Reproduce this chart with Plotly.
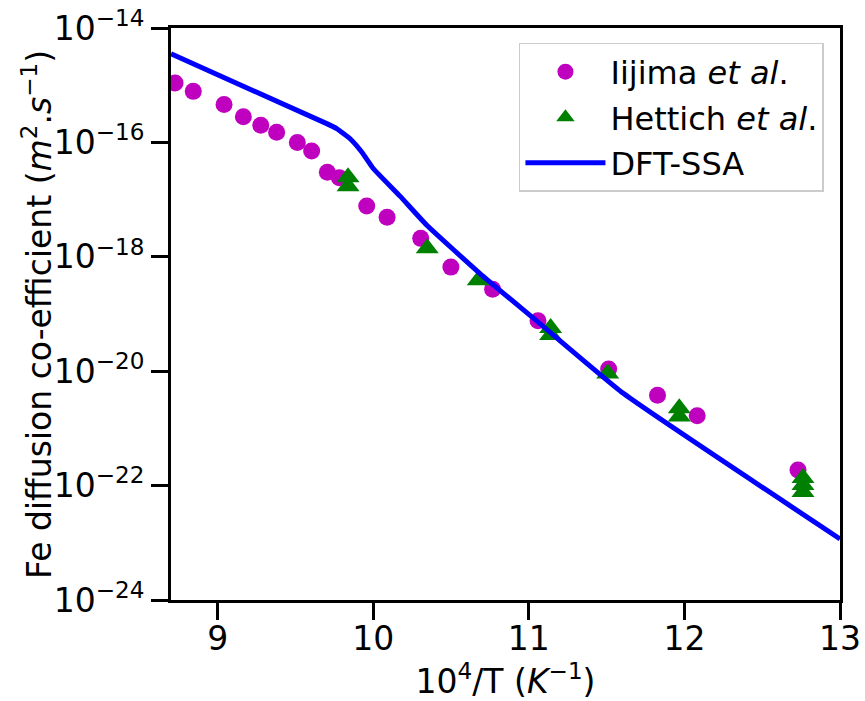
import plotly.graph_objects as go

# Iijima et al. measurements: inverse temperature (10^4/T, K^-1) and Fe diffusion coefficient (m^2/s)
iijima_x = [8.726, 8.843, 9.041, 9.165, 9.277, 9.379, 9.512, 9.604, 9.705, 9.782,
            9.958, 10.089, 10.305, 10.499, 10.767, 11.059, 11.513, 11.827, 12.082, 12.730]
iijima_d = [1.09e-15, 7.8e-16, 4.6e-16, 2.8e-16, 2.0e-16, 1.5e-16, 1.0e-16, 7.1e-17, 3.0e-17, 2.4e-17,
            7.7e-18, 4.9e-18, 2.1e-18, 6.6e-19, 2.7e-19, 7.6e-20, 1.09e-20, 3.8e-21, 1.66e-21, 1.87e-22]

# Hettich et al. measurements
hettich_x = [9.838, 9.838, 10.347, 10.675, 11.140, 11.140, 11.507, 11.967, 11.967, 12.762, 12.762, 12.762]
hettich_d = [2.45e-17, 1.71e-17, 1.41e-18, 3.9e-19, 5.7e-20, 4.3e-20, 9.1e-21, 2.26e-21, 1.61e-21,
             1.36e-22, 1.02e-22, 7.7e-23]

# DFT-SSA prediction
dft_x = [8.700, 9.701, 9.765, 9.851, 9.926, 10.000, 10.172, 10.343, 10.686, 11.052, 11.607, 13.000]
dft_d = [3.53e-15, 2.13e-16, 1.74e-16, 1.16e-16, 6.8e-17, 3.5e-17, 1.15e-17, 3.6e-18, 5.1e-19,
         7.5e-20, 4.1e-21, 1.17e-23]

# Axis ticks
x_ticks = [9, 10, 11, 12, 13]
y_tick_vals = [1e-24, 1e-22, 1e-20, 1e-18, 1e-16, 1e-14]
y_tick_text = ["10<sup>\u221224</sup>", "10<sup>\u221222</sup>", "10<sup>\u221220</sup>",
               "10<sup>\u221218</sup>", "10<sup>\u221216</sup>", "10<sup>\u221214</sup>"]

x_title = "10<sup>4</sup>/T (<i>K</i><sup>\u22121</sup>)"
y_title = "Fe diffusion co-efficient (<i>m</i><sup>2</sup>.<i>s</i><sup>\u22121</sup>)"

FONT = "DejaVu Sans"
FS = 33

fig = go.Figure()
fig.add_trace(go.Scatter(
    x=iijima_x, y=iijima_d, mode="markers", name="Iijima <i>et al</i>.",
    legendgroup="a",
    marker=dict(symbol="circle", size=17, color="#bf00bf", line=dict(width=0)),
))
fig.add_trace(go.Scatter(
    x=hettich_x, y=hettich_d, mode="markers", name="Hettich <i>et al</i>.",
    legendgroup="b",
    marker=dict(symbol="triangle-up", size=20, color="#008000", line=dict(width=0)),
))
fig.add_trace(go.Scatter(
    x=dft_x, y=dft_d, mode="lines", name="DFT-SSA",
    legendgroup="c",
    line=dict(color="#0000ff", width=5, shape="spline", smoothing=0.4),
))

axis_common = dict(
    showline=True, linecolor="black", linewidth=3, mirror=True,
    ticks="outside", ticklen=17, tickwidth=3, tickcolor="black",
    showgrid=False, zeroline=False, automargin=False,
    tickfont=dict(family=FONT, size=FS, color="black"),
)

fig.update_layout(
    width=865, height=701,
    margin=dict(l=171, r=25, t=28, b=101, autoexpand=False),
    paper_bgcolor="white", plot_bgcolor="white",
    font=dict(family=FONT, size=FS, color="black"),
    showlegend=True,
    legend=dict(
        x=0.976, y=0.974, xanchor="right", yanchor="top",
        bgcolor="white", bordercolor="#cccccc", borderwidth=1.5,
        font=dict(family=FONT, size=32, color="black"),
        itemwidth=80, tracegroupgap=1,
    ),
    xaxis=dict(range=[8.7, 13], tickvals=x_ticks, ticklabelstandoff=-10,
               title=dict(text=x_title, font=dict(family=FONT, size=FS, color="black")),
               **axis_common),
    yaxis=dict(type="log", range=[-24, -14], tickvals=y_tick_vals, ticktext=y_tick_text,
               **axis_common),
    annotations=[
        dict(text=y_title, xref="paper", yref="paper", x=-0.2003, y=0.5,
             xanchor="center", yanchor="middle", showarrow=False, textangle=-90,
             font=dict(family=FONT, size=FS, color="black")),
    ],
)

fig.write_html("out.html")
